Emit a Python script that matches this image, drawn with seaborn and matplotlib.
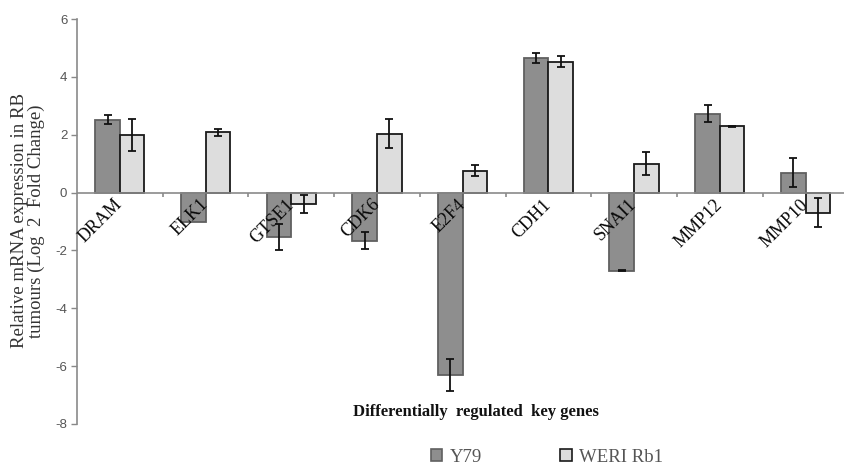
import matplotlib
matplotlib.use("Agg")
import matplotlib.pyplot as plt
from matplotlib.patches import Patch
import numpy as np
import pandas as pd
import seaborn as sns

genes = ["DRAM", "ELK1", "GTSE1", "CDK6", "E2F4", "CDH1", "SNAI1", "MMP12", "MMP10"]
y79 = [2.52, -1.03, -1.55, -1.66, -6.30, 4.64, -2.70, 2.73, 0.69]
y79_err = [0.15, 0.0, 0.45, 0.28, 0.55, 0.17, 0.02, 0.28, 0.50]
weri = [2.00, 2.08, -0.40, 2.03, 0.76, 4.53, 1.00, 2.29, -0.70]
weri_err = [0.55, 0.13, 0.30, 0.50, 0.20, 0.20, 0.40, 0.02, 0.50]
series = ["Y79", "WERI Rb1"]
yticks = [6, 4, 2, 0, -2, -4, -6, -8]

df = pd.DataFrame({
    "gene": genes * 2,
    "value": y79 + weri,
    "err": y79_err + weri_err,
    "line": [series[0]] * len(genes) + [series[1]] * len(genes),
})

sns.set_theme(style="white")
plt.rcParams["font.family"] = ["Liberation Serif", "DejaVu Serif"]

fill = {"Y79": "#8e8e8e", "WERI Rb1": "#dddddd"}
edge = {"Y79": "#606060", "WERI Rb1": "#1a1a1a"}

fig = plt.figure(figsize=(8.45, 4.66), dpi=100)
ax = fig.add_axes([77 / 845, 42 / 466, 768 / 845, 405 / 466])

sns.barplot(data=df, x="gene", y="value", hue="line", order=genes,
            hue_order=series, palette=fill, width=0.575, errorbar=None,
            legend=False, ax=ax, saturation=1)

# outline each bar and attach its error bar
n = len(genes)
for k, name in enumerate(series):
    sub = df[df["line"] == name].set_index("gene").loc[genes]
    for i, patch in enumerate(ax.patches[k * n:(k + 1) * n]):
        patch.set_edgecolor(edge[name])
        patch.set_linewidth(1.3)
        xc = patch.get_x() + patch.get_width() / 2
        e = sub["err"].iloc[i]
        if e > 0:
            ax.errorbar(xc, sub["value"].iloc[i], yerr=e, fmt="none",
                        ecolor="#111111", elinewidth=1.3, capsize=3,
                        capthick=1.3, zorder=5)

ax.set_xlim(-0.5, 8.46)
ax.set_ylim(-8, 6)
ax.set_yticks(yticks)
ax.set_yticklabels([str(t) for t in yticks], family="Liberation Sans",
                   fontsize=9.5, color="#555555")
ax.tick_params(axis="y", left=True, length=4, width=1, color="#888888", pad=3)
ax.set_xticks([])
ax.set_xlabel("")
ax.set_ylabel("")

for s in ["top", "right", "bottom"]:
    ax.spines[s].set_visible(False)
ax.spines["left"].set_color("#8a8a8a")
ax.spines["left"].set_linewidth(1.2)

# zero baseline with separators between gene groups
ax.axhline(0, color="#8a8a8a", linewidth=1.2, zorder=1)
ax.vlines(np.arange(0.5, n - 0.5, 1.0), -0.14, 0, color="#8a8a8a",
          linewidth=1.2, zorder=1)

for i, g in enumerate(genes):
    ax.text(i - 0.07, -0.12, g, rotation=45, ha="right", va="top",
            rotation_mode="anchor", fontsize=13, color="#0a0a0a")

fig.text(476 / 845, 1 - 412 / 466, "Differentially  regulated  key genes",
         ha="center", va="center", fontsize=12, fontweight="bold",
         color="#111111")
fig.text(28 / 845, 1 - 221 / 466,
         "Relative mRNA expression in RB\ntumours (Log  2  Fold Change)",
         rotation=90, ha="center", va="center", fontsize=13.5,
         color="#333333", linespacing=1.05)

handles = [Patch(facecolor=fill[s], edgecolor=edge[s], linewidth=1.2)
           for s in series]
fig.legend(handles, series, loc="center", ncol=2,
           bbox_to_anchor=(547 / 845, 1 - 457 / 466), frameon=False,
           handlelength=0.6, handleheight=0.6, handletextpad=0.4,
           columnspacing=4.2, fontsize=13.5, labelcolor="#555555")

fig.savefig("out.png", dpi=100)
